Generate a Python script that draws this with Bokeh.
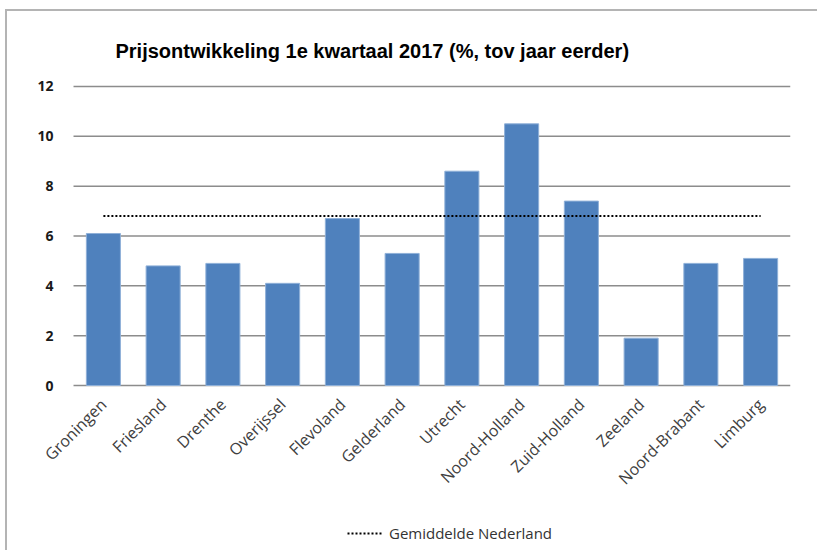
import math
from bokeh.plotting import figure
from bokeh.models import Legend, LegendItem, FixedTicker, Range1d
from bokeh.embed import file_html
from bokeh.resources import INLINE

categories = ["Groningen", "Friesland", "Drenthe", "Overijssel", "Flevoland", "Gelderland",
              "Utrecht", "Noord-Holland", "Zuid-Holland", "Zeeland", "Noord-Brabant", "Limburg"]
values = [6.1, 4.8, 4.9, 4.1, 6.7, 5.3, 8.6, 10.5, 7.4, 1.9, 4.9, 5.1]
average_nl = 6.8
y_ticks = [0, 2, 4, 6, 8, 10, 12]

positions = list(range(len(categories)))
left_edge = -0.5
right_edge = len(categories) - 0.5

# frame extends around the plotting area so that tick labels and legend are not clipped
p = figure(x_range=Range1d(-1.22, right_edge), y_range=Range1d(-6.42, 12.48),
           frame_width=760, frame_height=471,
           output_backend="svg", toolbar_location=None,
           min_border_left=23, min_border_right=27, min_border_top=63, min_border_bottom=5)
p.styles = {"border-left": "2px solid #b4b4b4", "border-top": "2px solid #b4b4b4",
            "margin-left": "5px", "margin-top": "9px"}

p.title.text = "Prijsontwikkeling 1e kwartaal 2017  (%, tov  jaar eerder)"
p.title.align = "left"
p.title.offset = 85
p.title.standoff = 25
p.title.text_font = "'Liberation Sans Narrow', 'Liberation Sans', sans-serif"
p.title.text_font_size = "20px"
p.title.text_font_style = "bold"
p.title.text_color = "#000000"

# horizontal gridlines spanning the category area only
p.segment(x0=[left_edge] * len(y_ticks), x1=[right_edge] * len(y_ticks), y0=y_ticks, y1=y_ticks,
          line_color="#8c8c8c", line_width=1.5)

p.vbar(x=positions, top=values, width=0.57, fill_color="#4F81BD", line_color="#8fb0d8", line_width=1)
avg_line = p.line(x=positions, y=[average_nl] * len(categories), line_color="#000000",
                  line_width=2, line_dash="2 2")

p.outline_line_color = None
p.xgrid.grid_line_color = None
p.ygrid.grid_line_color = None

p.yaxis.fixed_location = left_edge
p.yaxis.ticker = FixedTicker(ticks=y_ticks)
p.yaxis.axis_line_color = None
p.yaxis.major_tick_line_color = None
p.yaxis.minor_tick_line_color = None
p.yaxis.major_label_standoff = 14
p.yaxis.major_label_text_font = "Open Sans"
p.yaxis.major_label_text_font_size = "14px"
p.yaxis.major_label_text_font_style = "bold"
p.yaxis.major_label_text_color = "#1a1a1a"

p.xaxis.fixed_location = 0
p.xaxis.ticker = FixedTicker(ticks=positions)
p.xaxis.major_label_overrides = {i: name for i, name in zip(positions, categories)}
p.xaxis.axis_line_color = None
p.xaxis.major_tick_line_color = None
p.xaxis.minor_tick_line_color = None
p.xaxis.major_label_orientation = math.pi / 4
p.xaxis.major_label_standoff = 10
p.xaxis.major_label_text_font = "Open Sans"
p.xaxis.major_label_text_font_size = "16px"
p.xaxis.major_label_text_color = "#404040"

legend = Legend(items=[LegendItem(label="Gemiddelde Nederland", renderers=[avg_line])],
                location=(317, 2), orientation="horizontal", padding=6, margin=0,
                border_line_color=None, background_fill_alpha=0,
                label_text_font="Open Sans", label_text_font_size="15px",
                label_text_color="#333333", glyph_width=36, label_standoff=6)
p.add_layout(legend, "center")

open("out.html", "w").write(file_html(p, INLINE))
